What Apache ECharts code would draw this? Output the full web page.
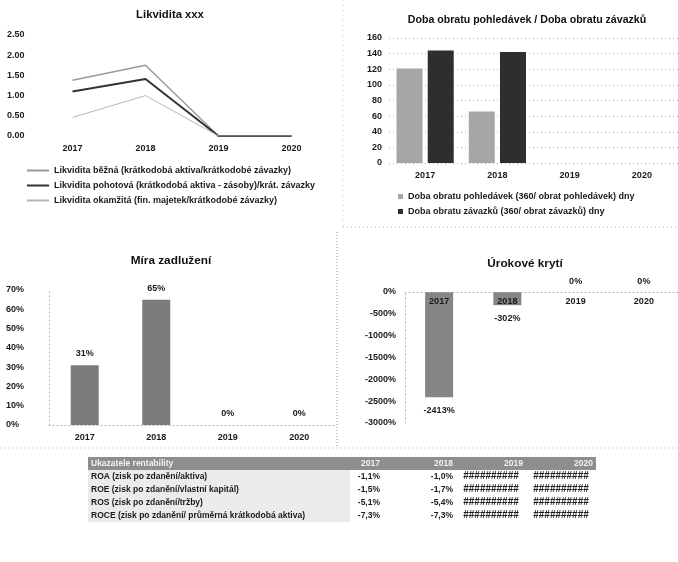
<!DOCTYPE html>
<html><head><meta charset="utf-8">
<script src="https://cdn.jsdelivr.net/npm/echarts@6/dist/echarts.min.js"></script>
<style>html,body{margin:0;padding:0;background:#fff}#c{width:678px;height:562px}</style>
</head><body><div id="c"></div>
<script>
// ---------- data ----------
const years = ['2017', '2018', '2019', '2020'];

const liqNames = [
  'Likvidita běžná (krátkodobá aktiva/krátkodobé závazky)',
  'Likvidita pohotová (krátkodobá aktiva - zásoby)/krát. závazky',
  'Likvidita okamžitá (fin. majetek/krátkodobé závazky)'
];
const liqCurrent = [1.38, 1.75, 0, 0];
const liqQuick = [1.10, 1.41, 0, 0];
const liqCash = [0.46, 1.00, 0, 0];

const turnoverNames = [
  'Doba obratu pohledávek (360/ obrat pohledávek) dny',
  'Doba obratu závazků (360/ obrat závazků) dny'
];
const receivableDays = [121, 66, 0, 0];
const payableDays = [144, 142, 0, 0];

const debtRatio = [31, 65, 0, 0];
const interestCoverage = [-2413, -302, 0, 0];

const titles = ['Likvidita xxx', 'Doba obratu pohledávek / Doba obratu závazků', 'Míra zadlužení', 'Úrokové krytí'];

const tableHeader = ['Ukazatele rentability', '2017', '2018', '2019', '2020'];
const tableRows = [
  'ROA (zisk po zdanění/aktiva)',
  'ROE (zisk po zdanění/vlastní kapitál)',
  'ROS (zisk po zdanění/tržby)',
  'ROCE (zisk po zdanění/ průměrná krátkodobá aktiva)'
];
const rent2017 = [-1.1, -1.5, -5.1, -7.3];
const rent2018 = [-1.0, -1.7, -5.4, -7.3];
const rent2019 = [null, null, null, null];
const rent2020 = [null, null, null, null];

// ---------- layout / style ----------
const FONT = 'Liberation Sans';
const lab = { fontFamily: FONT, fontSize: 9, color: '#1a1a1a', fontWeight: 'bold' };
const dotted = { color: '#b0b0b0', type: [1, 3], width: 1 };
const colEdges = [0, 262, 295, 368, 438, 508];
const rentCols = [rent2017, rent2018, rent2019, rent2020];

function fmtPct(v) {
  if (v === null) return '##########';
  return v.toFixed(1).replace('.', ',') + '%';
}
function cellText(r, c) {
  if (r === 0) return tableHeader[c];
  if (c === 0) return tableRows[r - 1];
  return fmtPct(rentCols[c - 1][r - 1]);
}
const cells = [];
for (let r = 0; r <= tableRows.length; r++) {
  for (let c = 0; c < tableHeader.length; c++) {
    cells.push([(colEdges[c] + colEdges[c + 1]) / 2, r, c]);
  }
}

const chart = echarts.init(document.getElementById('c'));
function ts(size) { return { fontFamily: FONT, fontSize: size, fontWeight: 'bold', color: '#111' }; }
const legText = Object.assign({}, lab, { fontSize: 9 });

const option = {
  animation: false,
  textStyle: { fontFamily: FONT },
  title: [
    { text: titles[0], left: 170, top: 9, textAlign: 'center', padding: 0, textStyle: ts(11.3) },
    { text: titles[1], left: 527, top: 15, textAlign: 'center', padding: 0, textStyle: ts(10.6) },
    { text: titles[2], left: 171, top: 255, textAlign: 'center', padding: 0, textStyle: ts(11.8) },
    { text: titles[3], left: 525, top: 258, textAlign: 'center', padding: 0, textStyle: ts(11.8) }
  ],
  legend: [
    { orient: 'vertical', left: 27, top: 166, itemGap: 6, itemWidth: 22, itemHeight: 2, icon: 'rect',
      padding: 0, data: liqNames, textStyle: legText },
    { orient: 'vertical', left: 398, top: 192, itemGap: 6, itemWidth: 5, itemHeight: 5, icon: 'rect',
      padding: 0, data: turnoverNames, textStyle: legText }
  ],
  grid: [
    { left: 36, top: 35, width: 292, height: 101 },
    { left: 389, top: 38, width: 290, height: 125 },
    { left: 49, top: 290, width: 286, height: 135 },
    { left: 405, top: 292, width: 279, height: 131 },
    { left: 88, top: 457, width: 508, height: 65 }
  ],
  xAxis: [
    { gridIndex: 0, type: 'category', data: years, axisLine: { show: false }, axisTick: { show: false },
      axisLabel: Object.assign({}, lab, { margin: 8 }) },
    { gridIndex: 1, type: 'category', data: years, axisLine: { show: false }, axisTick: { show: false },
      axisLabel: Object.assign({}, lab, { margin: 8 }) },
    { gridIndex: 2, type: 'category', data: years, axisLine: { show: true, lineStyle: dotted }, axisTick: { show: false },
      axisLabel: Object.assign({}, lab, { margin: 8 }) },
    { gridIndex: 3, type: 'category', data: years, position: 'top', z: 5,
      axisLine: { show: true, onZero: false, lineStyle: dotted },
      axisTick: { show: false }, axisLabel: Object.assign({}, lab, { inside: true, margin: 5 }) },
    { gridIndex: 4, type: 'value', min: 0, max: 508, show: false }
  ],
  yAxis: [
    { gridIndex: 0, type: 'value', min: 0, max: 2.5, interval: 0.5, splitLine: { show: false },
      axisLine: { show: false }, axisTick: { show: false },
      axisLabel: Object.assign({}, lab, { align: 'left', margin: 29, formatter: v => v.toFixed(2) }) },
    { gridIndex: 1, type: 'value', min: 0, max: 160, interval: 20, splitLine: { show: true, lineStyle: dotted },
      axisLine: { show: false }, axisTick: { show: false },
      axisLabel: Object.assign({}, lab, { margin: 7 }) },
    { gridIndex: 2, type: 'value', min: 0, max: 70, interval: 10, splitLine: { show: false },
      axisLine: { show: true, lineStyle: dotted }, axisTick: { show: false },
      axisLabel: Object.assign({}, lab, { align: 'left', margin: 43, formatter: v => v + '%' }) },
    { gridIndex: 3, type: 'value', min: -3000, max: 0, interval: 500, splitLine: { show: false },
      axisLine: { show: true, lineStyle: dotted }, axisTick: { show: false },
      axisLabel: Object.assign({}, lab, { margin: 9, formatter: v => v + '%' }) },
    { gridIndex: 4, type: 'category', data: [0, 1, 2, 3, 4], inverse: true, show: false }
  ],
  series: [
    { name: liqNames[0], type: 'line', xAxisIndex: 0, yAxisIndex: 0, data: liqCurrent, symbol: 'none',
      color: '#9a9a9a', lineStyle: { width: 1.5 } },
    { name: liqNames[1], type: 'line', xAxisIndex: 0, yAxisIndex: 0, data: liqQuick, symbol: 'none',
      color: '#333333', lineStyle: { width: 2 } },
    { name: liqNames[2], type: 'line', xAxisIndex: 0, yAxisIndex: 0, data: liqCash, symbol: 'none',
      color: '#b5b5b5', lineStyle: { width: 1 } },
    { name: turnoverNames[0], type: 'bar', xAxisIndex: 1, yAxisIndex: 1, data: receivableDays,
      color: '#a6a6a6', barWidth: 26, barGap: '20%' },
    { name: turnoverNames[1], type: 'bar', xAxisIndex: 1, yAxisIndex: 1, data: payableDays,
      color: '#2e2e2e', barWidth: 26, barGap: '20%' },
    { type: 'bar', xAxisIndex: 2, yAxisIndex: 2, data: debtRatio, color: '#7c7c7c', barWidth: 28,
      label: { show: true, position: 'top', distance: 7, formatter: '{c}%', fontFamily: FONT, fontSize: 9, fontWeight: 'bold', color: '#1a1a1a' } },
    { type: 'bar', xAxisIndex: 3, yAxisIndex: 3, color: '#858585', barWidth: 28,
      data: interestCoverage.map(v => ({
        value: v,
        label: { show: true, position: v < 0 ? 'bottom' : 'top', distance: v < 0 ? 9 : 6,
          formatter: '{c}%', fontFamily: FONT, fontSize: 9, fontWeight: 'bold', color: '#1a1a1a' }
      })) },
    { type: 'custom', xAxisIndex: 4, yAxisIndex: 4, data: cells, encode: { x: 0, y: 1 },
      renderItem: function (params, api) {
        const r = api.value(1), c = api.value(2);
        const p0 = api.coord([colEdges[c], r]);
        const p1 = api.coord([colEdges[c + 1], r]);
        const h = api.size([0, 1])[1];
        const x0 = p0[0], x1 = p1[0], y0 = p0[1] - h / 2;
        let fill = '#ffffff', tColor = '#1a1a1a', align = 'right', tx = x1 - 3, fs = 8.5, fw = 'bold';
        if (r === 0) { fill = '#8e8e8e'; tColor = '#f2f2f2'; }
        else if (c === 0) { fill = '#ebebeb'; }
        if (c === 0) { align = 'left'; tx = x0 + 3; }
        const t = cellText(r, c);
        if (t.charAt(0) === '#') { align = 'center'; tx = (x0 + x1) / 2; fs = 10; fw = 'bold'; }
        return {
          type: 'group',
          children: [
            { type: 'rect', shape: { x: x0, y: y0, width: x1 - x0, height: h }, style: { fill: fill } },
            { type: 'text', style: { x: tx, y: p0[1], text: t, align: align, verticalAlign: 'middle',
              fontFamily: FONT, fontSize: fs, fontWeight: fw, fill: tColor } }
          ]
        };
      } }
  ],
  graphic: [
    { type: 'line', shape: { x1: 343, y1: 0, x2: 343, y2: 226 }, style: { stroke: '#c4c4c4', lineDash: [1, 4] } },
    { type: 'line', shape: { x1: 343, y1: 227, x2: 678, y2: 227 }, style: { stroke: '#b0b0b0', lineDash: [1, 3] } },
    { type: 'line', shape: { x1: 337, y1: 232, x2: 337, y2: 447 }, style: { stroke: '#9a9a9a', lineDash: [1, 2] } },
    { type: 'line', shape: { x1: 0, y1: 448, x2: 678, y2: 448 }, style: { stroke: '#b5b5b5', lineDash: [1, 3] } }
  ]
};
chart.setOption(option);
</script>
</body></html>
